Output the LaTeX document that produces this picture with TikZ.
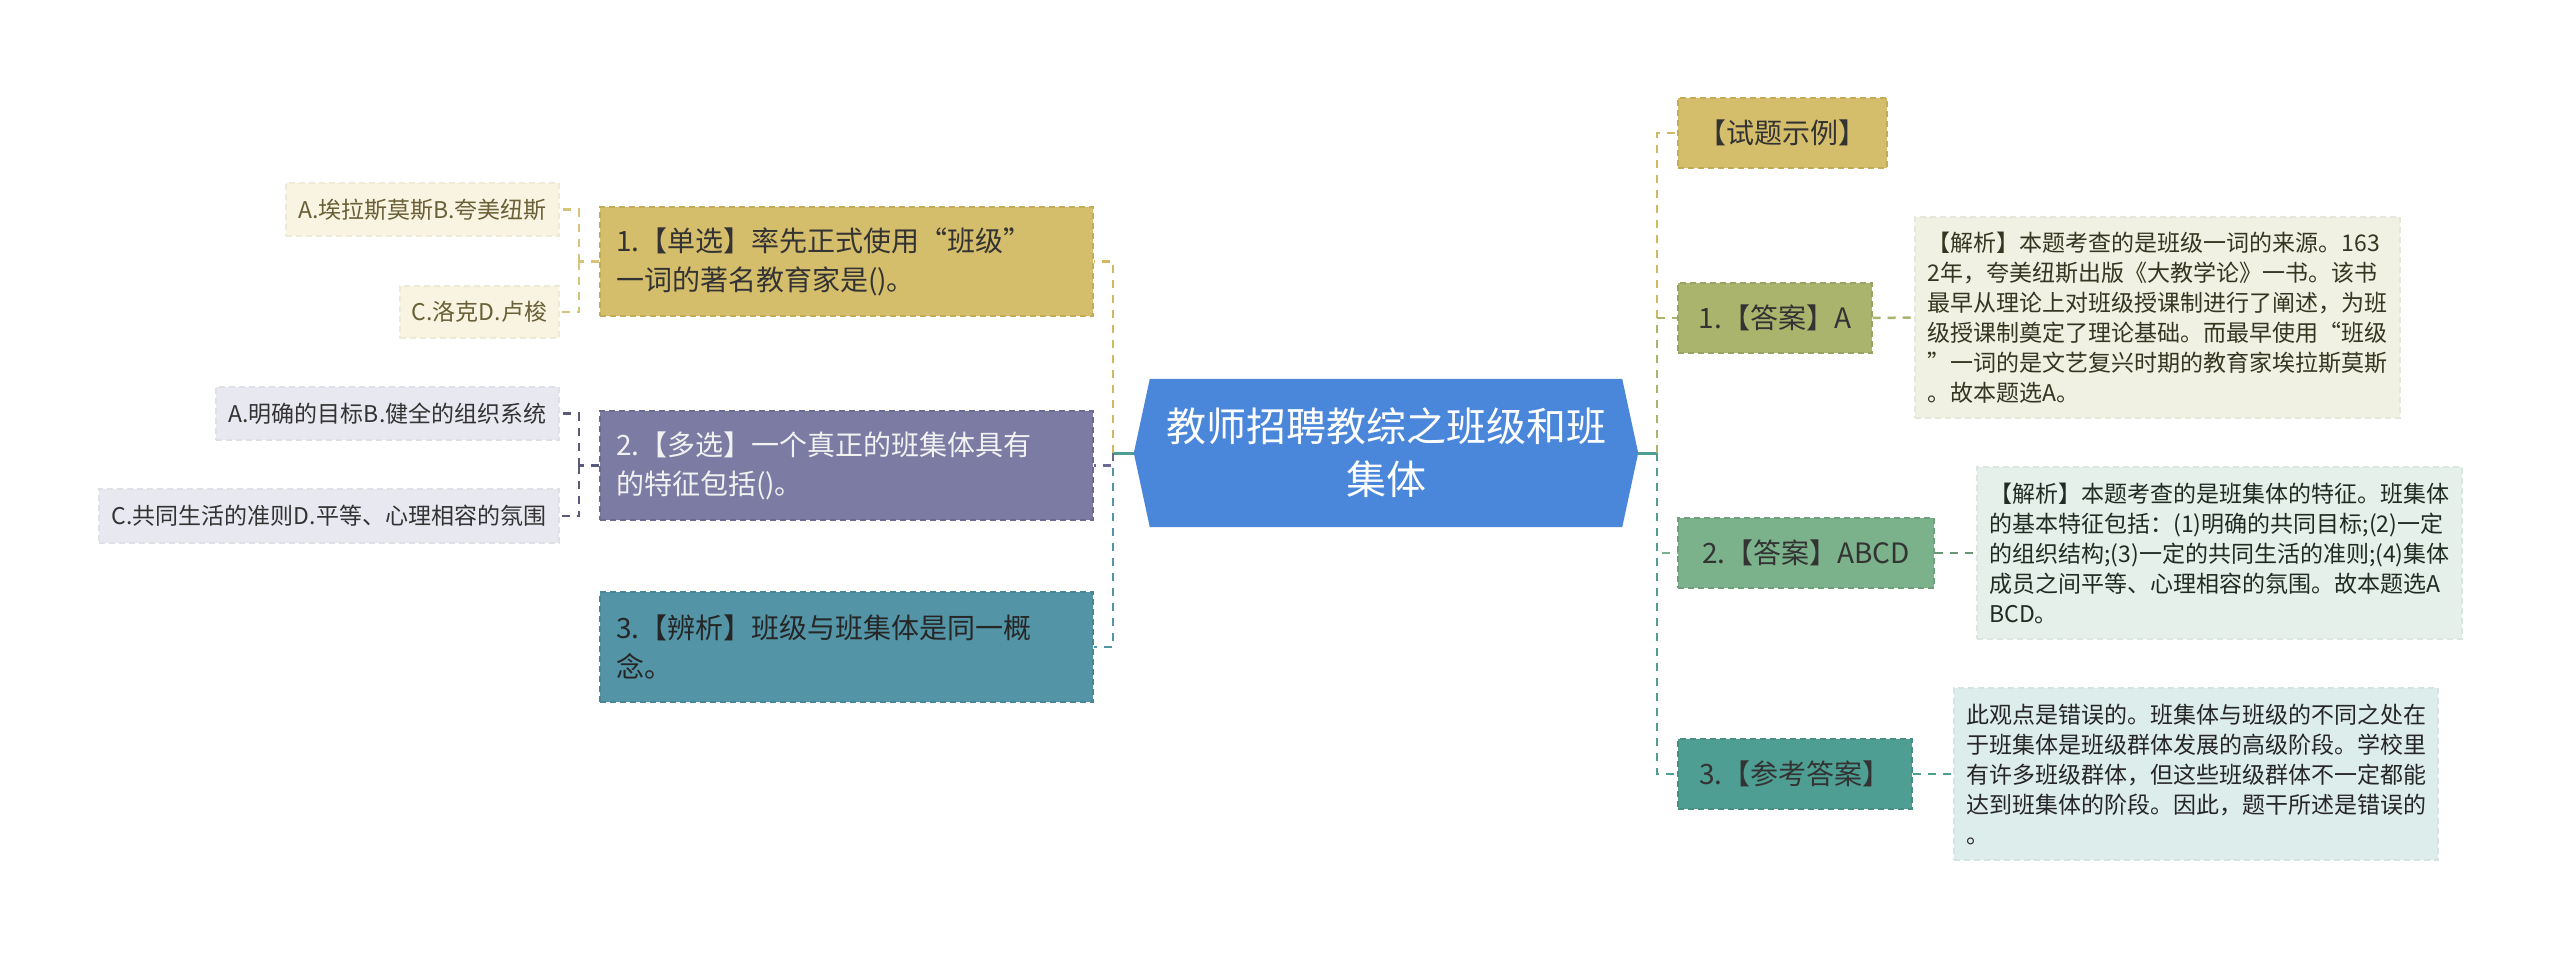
\documentclass[tikz,border=0pt]{standalone}
\usepackage{fontspec}
\setmainfont{Noto Sans CJK SC}
\usepackage{tikz}
\usetikzlibrary{calc, backgrounds}
\usepackage{xcolor}
\definecolor{hub}{HTML}{4A86DA}
\definecolor{gold}{HTML}{D4BD6B}
\definecolor{golddk}{HTML}{C4AB58}
\definecolor{goldln}{HTML}{D0B962}
\definecolor{purple}{HTML}{7B7BA3}
\definecolor{purpledk}{HTML}{6A6A92}
\definecolor{teal}{HTML}{5394A6}
\definecolor{tealdk}{HTML}{4A8597}
\definecolor{olive}{HTML}{AAB46C}
\definecolor{green}{HTML}{7BB18B}
\definecolor{tealg}{HTML}{4F9E93}
\definecolor{leafg}{HTML}{F8F4E1}
\definecolor{leafp}{HTML}{E8E8F0}
\definecolor{note1}{HTML}{F0F0E3}
\definecolor{note2}{HTML}{E4F0E9}
\definecolor{note3}{HTML}{DDEDEC}
\definecolor{ink}{HTML}{333333}

\begin{document}
\begin{tikzpicture}[x=1pt, y=-1pt,
  box/.style={rectangle, draw, line width=1.2pt, dash pattern=on 6pt off 4pt, inner sep=0pt, align=left},
  sz/.style 2 args={minimum width=#1, minimum height=#2},
  big/.style={box, font=\fontsize{28}{39}\selectfont},
  wide/.style={big, text width=461pt, inner xsep=16pt},
  small/.style={box, font=\fontsize{23}{30}\selectfont},
  link/.style={line width=2.5pt, dash pattern=on 8pt off 7pt}]
  \node[font=\fontsize{40}{53}\selectfont, text=white, align=center, sz={504}{148}] (c) at (1386,453) {教师招聘教综之班级和班\\集体};
  \begin{scope}[on background layer]
    \fill[white] (0,0) rectangle (2560,959);
    \fill[hub] ($(c.north west)+(16,0)$) -- ($(c.north east)+(-16,0)$) -- (c.east) -- ($(c.south east)+(-16,0)$) -- ($(c.south west)+(16,0)$) -- (c.west) -- cycle;
  \end{scope}
  \useasboundingbox (0,0) rectangle (2560,959);

  \node[wide, fill=gold, draw=golddk, text=ink, minimum height=109] (q1) at (846.5,261.5) {1.【单选】率先正式使用“班级”\\一词的著名教育家是()。};
  \node[wide, fill=purple, draw=purpledk, text=white!95!black, minimum height=109] (q2) at (846.5,465.5) {2.【多选】一个真正的班集体具有\\的特征包括()。};
  \node[wide, fill=teal, draw=tealdk, text=black!85, minimum height=110] (q3) at (846.5,647) {3.【辨析】班级与班集体是同一概\\念。};

  \node[small, fill=leafg, draw=leafg!96!black, text=gold!50!black, sz={273}{53}] (o1a) at (422.5,209.5) {A.埃拉斯莫斯B.夸美纽斯};
  \node[small, fill=leafg, draw=leafg!96!black, text=gold!50!black, sz={159}{52}] (o1b) at (479.5,312) {C.洛克D.卢梭};
  \node[small, fill=leafp, draw=leafp!96!black, text=ink, sz={343}{53}] (o2a) at (387.5,413.5) {A.明确的目标B.健全的组织系统};
  \node[small, fill=leafp, draw=leafp!96!black, text=ink, sz={460}{54}] (o2b) at (329,516) {C.共同生活的准则D.平等、心理相容的氛围};

  \node[big, fill=gold, draw=golddk, text=ink, sz={209}{70}] (c0) at (1782.5,133) {【试题示例】};
  \node[big, fill=olive, draw=olive!90!black, text=ink, sz={194}{70}] (a1) at (1775,318) {1.【答案】A};
  \node[big, fill=green, draw=green!90!black, text=ink, sz={256}{70}] (a2) at (1806,553) {2.【答案】ABCD};
  \node[big, fill=tealg, draw=tealg!90!black, text=ink, sz={234}{70}] (a3) at (1795,774) {3.【参考答案】};

  \node[small, fill=note1, draw=note1!96!black, text=olive!30!black, sz={485}{201}] (e1) at (2157.5,317.5) {【解析】本题考查的是班级一词的来源。163\\2年，夸美纽斯出版《大教学论》一书。该书\\最早从理论上对班级授课制进行了阐述，为班\\级授课制奠定了理论基础。而最早使用“班级\\”一词的是文艺复兴时期的教育家埃拉斯莫斯\\。故本题选A。};
  \node[small, fill=note2, draw=note2!96!black, text=green!25!black, sz={485}{172}] (e2) at (2219.5,553) {【解析】本题考查的是班集体的特征。班集体\\的基本特征包括：(1)明确的共同目标;(2)一定\\的组织结构;(3)一定的共同生活的准则;(4)集体\\成员之间平等、心理相容的氛围。故本题选A\\BCD。};
  \node[small, fill=note3, draw=note3!96!black, text=black!85, sz={484}{172}] (e3) at (2196,774) {此观点是错误的。班集体与班级的不同之处在\\于班集体是班级群体发展的高级阶段。学校里\\有许多班级群体，但这些班级群体不一定都能\\达到班集体的阶段。因此，题干所述是错误的\\。};

  \coordinate (lj) at (1113,453);
  \coordinate (rj) at (1657,453);
  \coordinate (k1) at (579,261.5);
  \coordinate (k2) at (579,465.5);

  \draw[tealg, line width=3pt] (c.west) -- (lj);
  \draw[tealg, line width=3pt] (c.east) -- (rj);
  \draw[link, teal] (lj) |- (q3.east);
  \draw[link, purpledk] (lj) |- (q2.east);
  \draw[link, goldln] (lj) |- (q1.east);
  \draw[link, goldln] (rj) |- (c0.west);
  \draw[link, olive] (rj) |- (a1.west);
  \draw[link, green] (rj) |- (a2.west);
  \draw[link, tealg] (rj) |- (a3.west);

  \draw[link, olive] (a1.east) -- (e1.west);
  \draw[link, green!85!black] (a2.east) -- (e2.west);
  \draw[link, tealg] (a3.east) -- (e3.west);

  \draw[link, goldln!85!white] (q1.west) -- (k1);
  \draw[link, goldln!85!white] (k1) |- (o1a.east);
  \draw[link, goldln!85!white] (k1) |- (o1b.east);
  \draw[link, purpledk!85!black] (q2.west) -- (k2);
  \draw[link, purpledk!85!black] (k2) |- (o2a.east);
  \draw[link, purpledk!85!black] (k2) |- (o2b.east);
\end{tikzpicture}
\end{document}
